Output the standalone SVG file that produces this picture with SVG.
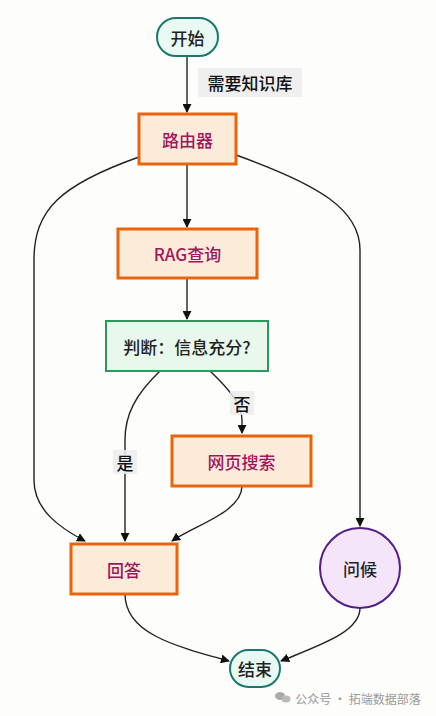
<svg xmlns="http://www.w3.org/2000/svg" width="436" height="716" viewBox="0 0 436 716">
<defs>
<marker id="arr" viewBox="0 0 10 10" refX="9" refY="5" markerWidth="9" markerHeight="9" markerUnits="userSpaceOnUse" orient="auto">
<path d="M0,0 L10,5 L0,10 z" fill="#111"/>
</marker>
<style>
text{font-family:"Noto Sans CJK SC","Noto Sans",sans-serif;text-anchor:middle;dominant-baseline:central}
.term{fill:#e9f9f4;stroke:#17796c;stroke-width:2}
.proc{fill:#fdebd9;stroke:#ea640c;stroke-width:3}
.dec{fill:#e8f8ec;stroke:#2a9a5a;stroke-width:2}
.greet{fill:#f4e5fa;stroke:#561d8a;stroke-width:2}
.pt{fill:#a0175c;font-size:17px;font-weight:500}
.dt{fill:#222;font-size:17px;font-weight:500}
.edge{fill:none;stroke:#222;stroke-width:1.4;marker-end:url(#arr)}
.lblbg{fill:#ececec;opacity:0.85}
.lbl{fill:#111;font-size:17px;font-weight:500}
</style>
</defs>
<rect width="436" height="716" fill="#fdfdfb"/>
<g id="connectors">
<path class="edge" d="M187,56 L187,112"/>
<path class="edge" d="M187,164 L187,227"/>
<path class="edge" d="M187,278 L187,319"/>
<path class="edge" d="M139,157 C60,185 34,210 34,260 L34,480 C34,510 60,528 85,541"/>
<path class="edge" d="M236,155 C320,185 360,210 360,250 L360,526"/>
<path class="edge" d="M160,371 C135,395 125,415 125,440 L125,541"/>
<path class="edge" d="M210,371 C230,390 242,405 242,420 L242,433"/>
<path class="edge" d="M242,486 C242,512 195,525 172,541"/>
<path class="edge" d="M125,594 C125,632 170,645 229,661"/>
<path class="edge" d="M360,608 C360,632 320,645 281,661"/>
<rect class="lblbg" x="198" y="68" width="104" height="29"/>
<text class="lbl" x="250" y="82">需要知识库</text>
<rect class="lblbg" x="230" y="391" width="24" height="24"/>
<text class="lbl" x="242" y="403">否</text>
<rect class="lblbg" x="113" y="450" width="24" height="24"/>
<text class="lbl" x="125" y="462">是</text>
</g>
<g id="start">
<rect class="term" x="157" y="18" width="61" height="38" rx="19"/>
<text class="dt" x="187.5" y="37">开始</text>
</g>
<g id="router">
<rect class="proc" x="139" y="114" width="97" height="50"/>
<text class="pt" x="187.5" y="139">路由器</text>
</g>
<g id="rag">
<rect class="proc" x="118" y="229" width="139" height="49"/>
<text class="pt" x="187.5" y="253">RAG查询</text>
</g>
<g id="decision">
<rect class="dec" x="106" y="321" width="162" height="50"/>
<text class="dt" x="187" y="346">判断：信息充分?</text>
</g>
<g id="websearch">
<rect class="proc" x="172" y="436" width="139" height="50"/>
<text class="pt" x="241.5" y="461">网页搜索</text>
</g>
<g id="answer">
<rect class="proc" x="71" y="544" width="106" height="50"/>
<text class="pt" x="124" y="569">回答</text>
</g>
<g id="greet">
<circle class="greet" cx="360" cy="568" r="40"/>
<text class="dt" x="360" y="568">问候</text>
</g>
<g id="end">
<rect class="term" x="230" y="650" width="50" height="37" rx="18.5"/>
<text class="dt" x="255" y="668.5">结束</text>
</g>
<g id="watermark">
<ellipse cx="280" cy="696" rx="5" ry="4" fill="#aaa"/>
<ellipse cx="286" cy="699" rx="4.5" ry="3.5" fill="#bbb"/>
<text x="358" y="698" style="font-size:12px;fill:#9a9a9a">公众号 · 拓端数据部落</text>
</g>
</svg>
